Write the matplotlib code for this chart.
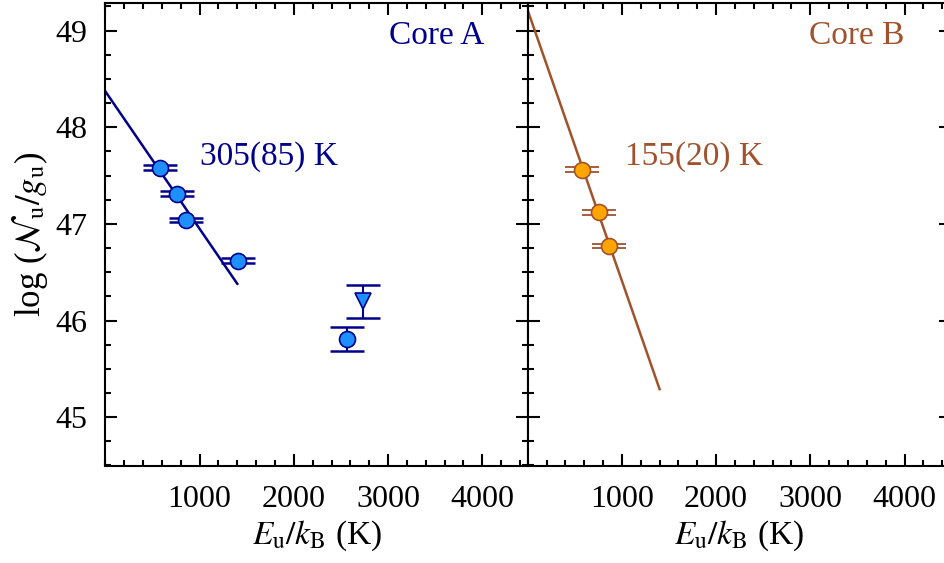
import matplotlib
matplotlib.use("Agg")
import matplotlib.pyplot as plt
from matplotlib.ticker import MultipleLocator

plt.rcParams['font.family'] = ['Liberation Serif', 'DejaVu Serif']
plt.rcParams['mathtext.fontset'] = 'stix'

# Core A data
a_x = [580, 755, 860, 1405, 2560]
a_y = [47.58, 47.31, 47.04, 46.62, 45.81]
a_err = [0.025, 0.025, 0.025, 0.025, 0.125]
a_tri_x = [2730]
a_tri_y = [46.20]
a_tri_err = [0.17]
a_fit_x = [0, 1400]
a_fit_y = [48.37, 46.38]
a_label = "Core A"
a_temp = "305(85) K"

# Core B data
b_x = [580, 760, 860]
b_y = [47.56, 47.12, 46.77]
b_err = [0.025, 0.025, 0.025]
b_fit_x = [0, 1400]
b_fit_y = [49.21, 45.29]
b_label = "Core B"
b_temp = "155(20) K"

navy = '#00008B'
blue_fill = '#1E8FFF'
sienna = '#A0522D'
orange = '#FFA500'

fig = plt.figure(figsize=(9.45, 5.63), dpi=100)
W, H = 945, 563
axA = fig.add_axes([105.4 / W, 1 - 465.5 / H, 423 / W, 463 / H])
axB = fig.add_axes([527.7 / W, 1 - 465.5 / H, 423 / W, 463 / H])

for ax in (axA, axB):
    ax.set_xlim(0, 4490)
    ax.set_ylim(44.5, 49.29)
    ax.xaxis.set_major_locator(MultipleLocator(1000))
    ax.xaxis.set_minor_locator(MultipleLocator(200))
    ax.yaxis.set_major_locator(MultipleLocator(1))
    ax.yaxis.set_minor_locator(MultipleLocator(0.25))
    ax.tick_params(which='both', direction='in', top=True, right=True, width=1.5, labelsize=23)
    ax.tick_params(axis='x', pad=14)
    ax.tick_params(axis='y', pad=13)
    ax.tick_params(which='major', length=8.5)
    ax.tick_params(which='minor', length=4.3)
    for s in ax.spines.values():
        s.set_linewidth(1.5)
    ax.set_xticks([1000, 2000, 3000, 4000])
    ax.set_xlabel(r'$E_\mathrm{u}/k_\mathrm{B}$ (K)', fontsize=24, labelpad=3)

axB.tick_params(labelleft=False)
axA.set_ylabel(r'log ($\mathcal{N}_\mathrm{u}/g_\mathrm{u}$)', fontsize=25, labelpad=4)

# Core A
axA.plot(a_fit_x, a_fit_y, color=navy, lw=1.8, zorder=2)
axA.errorbar(a_x, a_y, yerr=a_err, fmt='none', ecolor=navy, elinewidth=1.5,
             capsize=12.5, capthick=1.8, zorder=3)
axA.errorbar(a_tri_x, a_tri_y, yerr=a_tri_err, fmt='none', ecolor=navy, elinewidth=1.5,
             capsize=12.5, capthick=1.8, zorder=3)
axA.plot(a_x, a_y, 'o', ms=11.5, mfc=blue_fill, mec=navy, mew=1.2, zorder=4)
axA.plot(a_tri_x, a_tri_y, 'v', ms=12, mfc=blue_fill, mec=navy, mew=1.2, zorder=4)
axA.text(4025, 48.95, a_label, color=navy, fontsize=24, ha='right', va='center')
axA.text(1000, 47.7, a_temp, color=navy, fontsize=24, ha='left', va='center')

# Core B
axB.plot(b_fit_x, b_fit_y, color=sienna, lw=1.8, zorder=2)
axB.errorbar(b_x, b_y, yerr=b_err, fmt='none', ecolor=sienna, elinewidth=1.2,
             capsize=12.5, capthick=1.3, zorder=3)
axB.plot(b_x, b_y, 'o', ms=11.5, mfc=orange, mec=sienna, mew=1.2, zorder=4)
axB.text(4000, 48.95, b_label, color=sienna, fontsize=24, ha='right', va='center')
axB.text(1030, 47.7, b_temp, color=sienna, fontsize=24, ha='left', va='center')

fig.savefig('out.png', dpi=100)
